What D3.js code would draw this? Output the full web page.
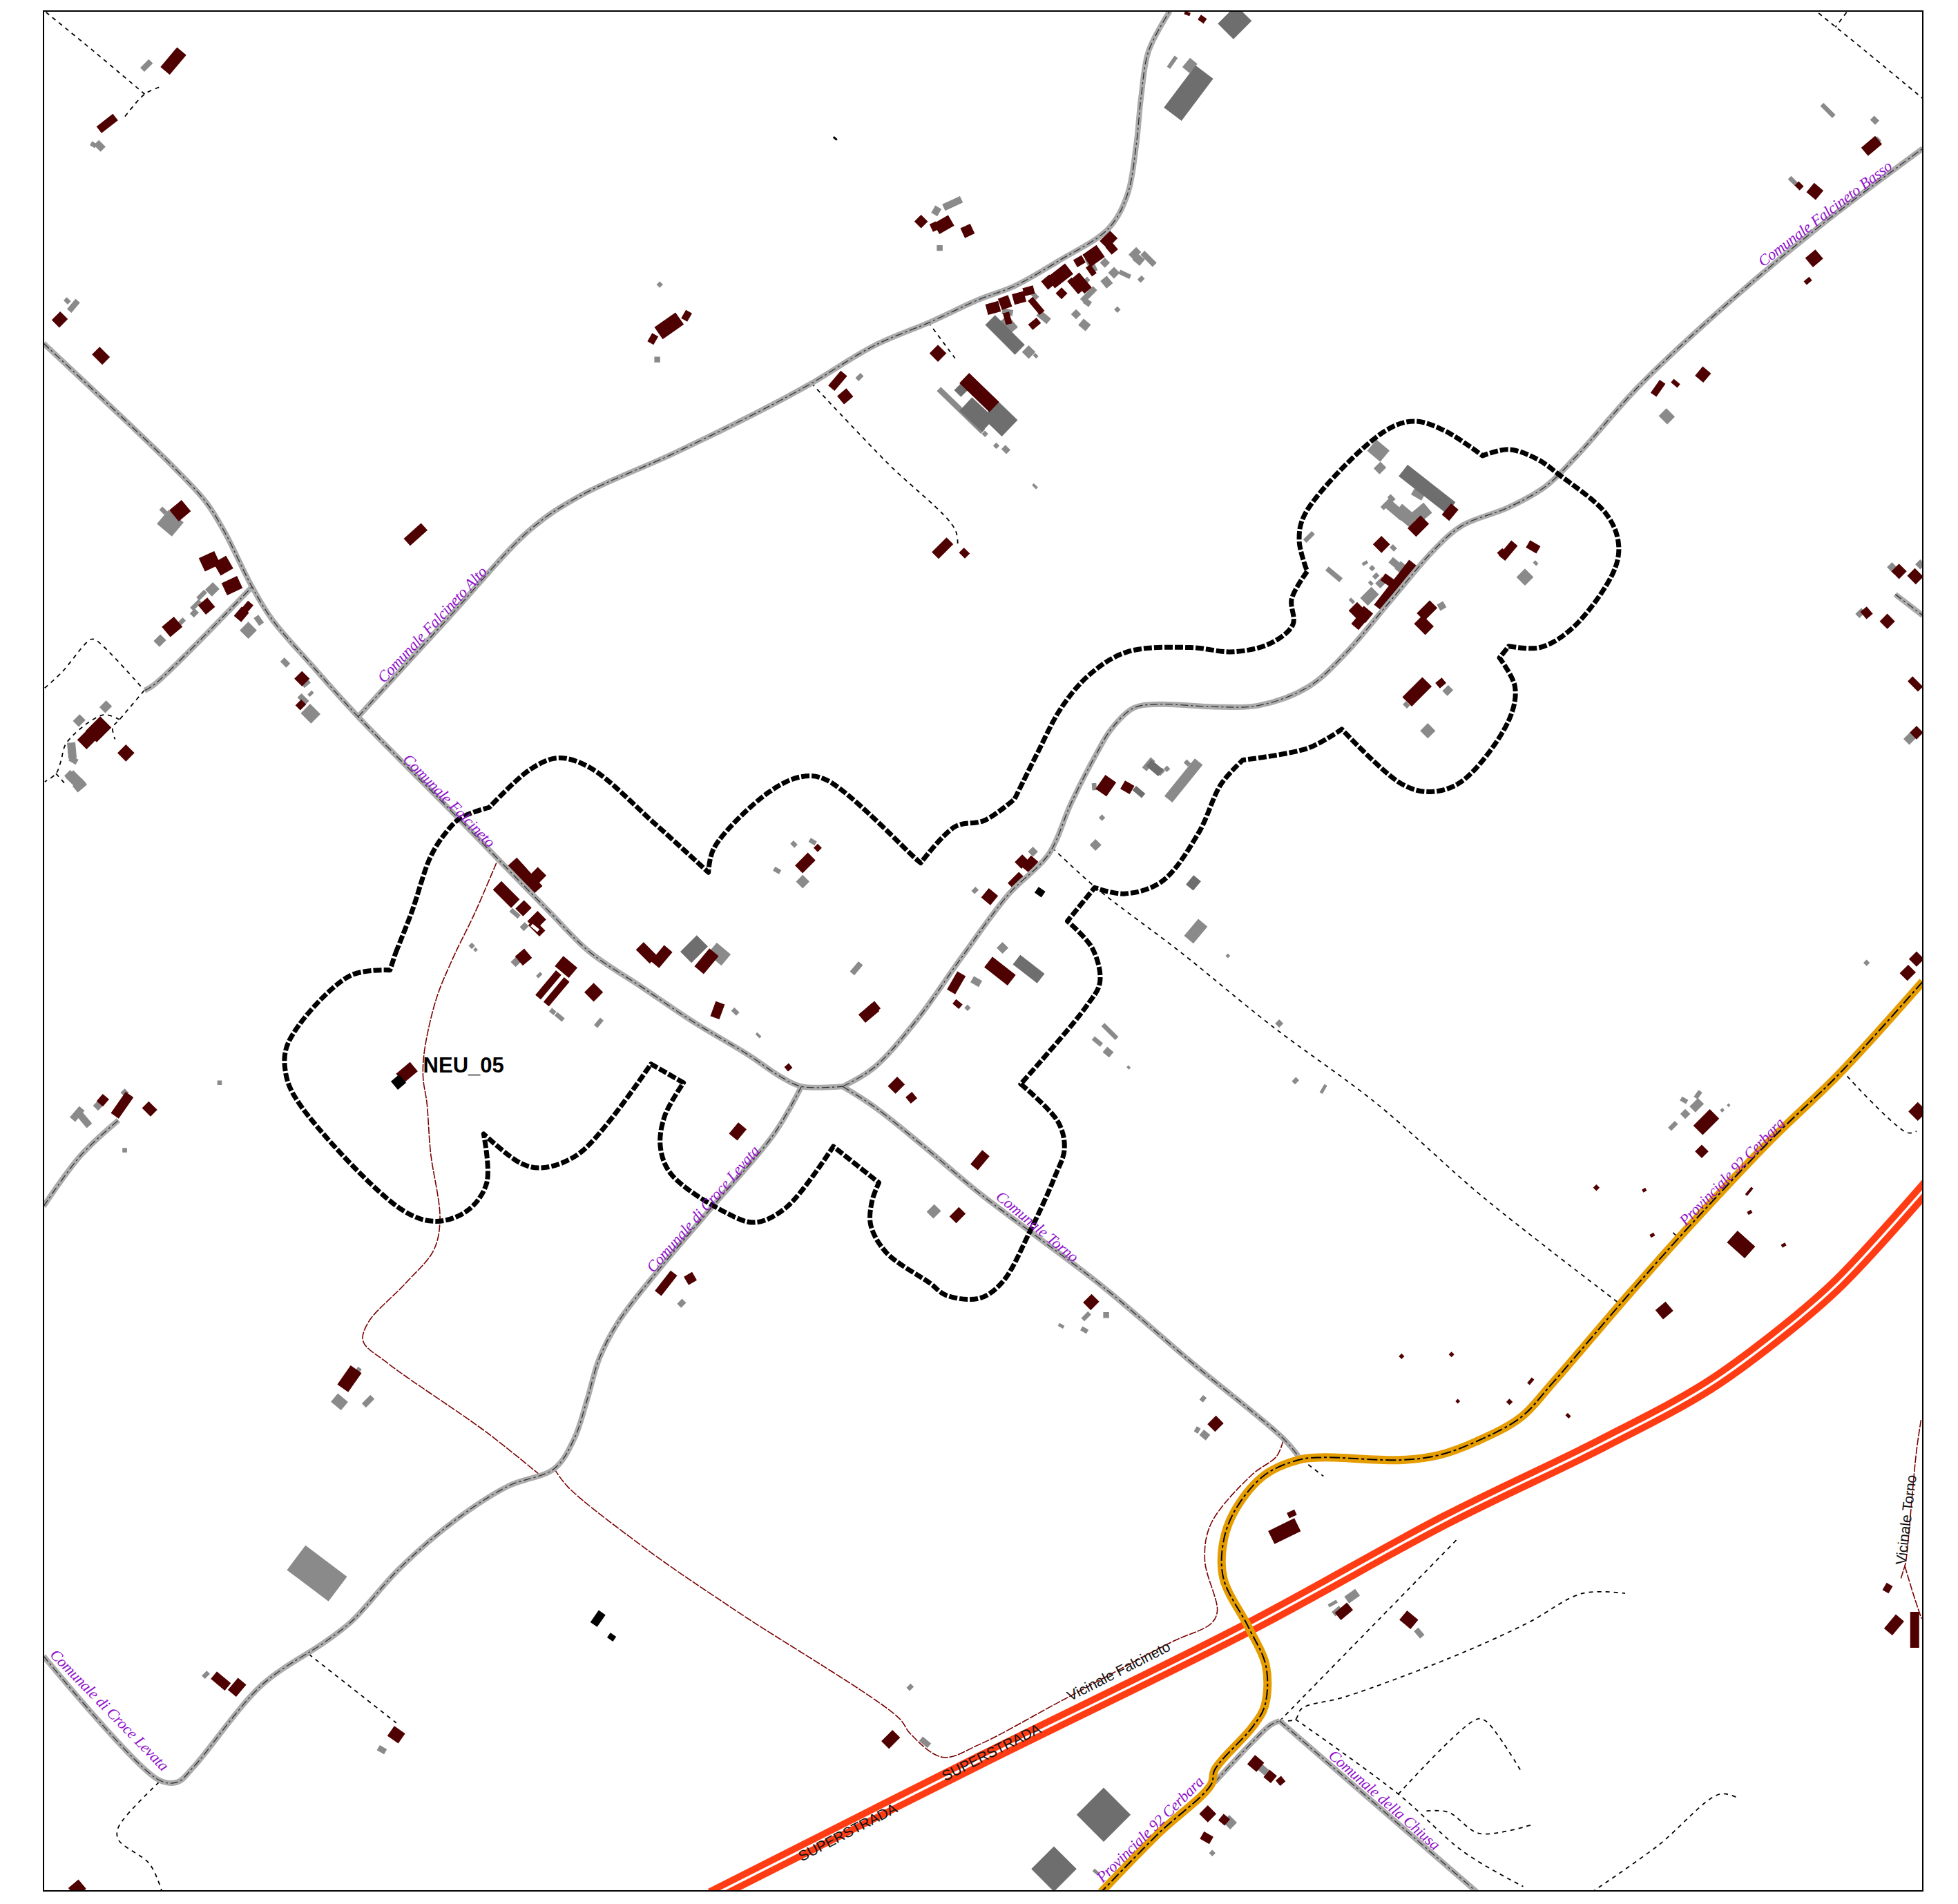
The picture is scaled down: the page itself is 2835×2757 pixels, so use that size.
<!DOCTYPE html>
<html>
<head>
<meta charset="utf-8">
<script src="https://cdn.jsdelivr.net/npm/d3@7"></script>
<style>
    html, body { margin: 0; padding: 0; background: #fff; }
    svg { display: block; }
</style>
</head>
<body>
<div id="chart"></div>
<script>
// all map data is in map units, the frame covers 35..1540 and 9..1514

// named roads (comunali)
const roadFalcineto = [[35,275],[105,341],[140,375],[165,402],[180,426],[202,470],[218,496],[250,533],[287,574],[367,655],[400,689],[440,730],[472,762],[515,791],[555,818],[600,845],[625,862],[642,870],[675,870]];
const roadTorno = [[675,870],[700,886],[740,918],[784,955],[825,986],[883,1030],[957,1093],[1027,1151],[1040,1166]];
const roadFalcinetoAlto = [[287,574],[360,494],[425,424],[465,397],[540,363],[615,326],[650,307],[700,277],[745,258],[784,240],[813,229],[848,209],[888,183],[903,156],[910,117],[914,78],[920,41],[937,9]];
const roadSide = [[116,553],[124,548],[202,470]];
const roadFalcinetoBasso = [[675,870],[700,855],[735,816],[770,767],[808,716],[840,684],[858,643],[878,604],[890,584],[908,567],[928,564],[973,566],[1008,565],[1048,550],[1078,523],[1113,482],[1148,441],[1171,421],[1208,406.5],[1238,389.5],[1263,365],[1313,309],[1389,238.5],[1459,180],[1540,119]];
const roadCroceLevata = [[642,870],[620,908],[570,967],[525,1020],[495,1059],[480,1088],[470,1122],[460,1152],[444,1176],[407,1190],[365,1217],[320,1256],[282,1298],[260,1315],[210,1349],[155,1415],[142,1427],[127,1425],[35,1326]];
const roadLeft = [[35,966],[65,925],[95,897]];
const roadChiusa = [[1025,1378],[1183,1515]];
const roadChiusaLink = [[973,1427],[1003,1395],[1018,1381],[1025,1378]];
const roadRightStub = [[1518,476],[1540,493]];
const comunali = [roadFalcineto, roadTorno, roadFalcinetoAlto, roadSide, roadFalcinetoBasso, roadCroceLevata, roadLeft, roadChiusa, roadChiusaLink, roadRightStub];

const provinciale = [[1540,786],[1473,860],[1418,913],[1343,993],[1298,1044],[1243,1108],[1218,1135],[1183,1154],[1153,1165],[1123,1169],[1058,1167],[1040,1169],[1013,1181],[990,1208],[980,1234],[980,1264],[1000,1303],[1014,1334],[1013,1366],[1003,1383],[973,1417],[970,1429],[928,1468],[882,1515]];
const superstrada = [[1545,948],[1473,1027],[1428,1066],[1368,1110],[1283,1156],[1158,1217],[1000,1303],[784,1410],[570,1518]];

// farm tracks, thin dotted
const tracks = [
    [[37,10],[75,41],[116,75.5]],
    [[127.5,70],[116,75.5],[99,95]],
    [[650,307],[710,370],[765,424],[767,438]],
    [[743.5,258],[765,287]],
    [[36,551],[50,538],[73,512],[77.4,513],[114.5,551.4]],
    [[115.6,553],[95.8,576.3],[90.4,582.6],[92.3,592]],
    [[95.8,576.3],[83,572.5],[53.6,594.6],[48.8,610],[45,619.5],[36,626]],
    [[45,619.5],[52.5,628]],
    [[127.5,1427],[95,1463],[95,1473],[120,1492.5],[130,1515]],
    [[247.5,1324.5],[317.5,1379.5]],
    [[843,679],[878,711],[945,762],[1018,821],[1103,884],[1183,954.5],[1235,996],[1298,1044.5]],
    [[1475,857],[1527.6,907],[1535,905.8]],
    [[1340,987],[1345,992]],
    [[1042.6,1168.7],[1060,1182]],
    [[1025,1378],[1167.6,1232]],
    [[1025,1378],[1037.6,1376.6],[1042.6,1368],[1077.6,1358.6],[1162.6,1327],[1222.6,1300],[1267.6,1275.8],[1301.6,1275.8]],
    [[1037.6,1376.6],[1120,1436.5],[1172.6,1483],[1220,1510.5]],
    [[1120,1436.5],[1182.6,1376.6],[1190,1378],[1217.6,1417]],
    [[1142.6,1450],[1160,1451],[1185,1468],[1227.6,1460.8]],
    [[1275,1515],[1327.6,1478],[1377.6,1436.5],[1392.6,1440]],
    [[1456.6,10.7],[1494,41],[1540,79]],
    [[1479,10],[1470,22]]
];

// vicinali, dark red dashed
const vicinali = [
    [[397.7,691],[380,732],[363,767],[349.5,800],[340,842],[339,863],[342,883],[345,923],[352.5,976],[347.5,1001],[325,1027.5],[295,1059],[291,1074],[310,1091],[390,1147],[432.5,1181]],
    [[444,1176],[455,1190.6],[520,1242],[590,1290],[720,1375.6],[729,1388],[755,1407],[784,1397],[848,1363],[938,1315],[970,1300],[975,1290],[965,1249],[970,1220],[1002.6,1181],[1022.6,1166],[1027.6,1154]],
    [[1538.6,1137],[1535,1161.5],[1526.5,1250],[1525.6,1253.8],[1522.5,1263.8]],
    [[1525.6,1253.8],[1528,1262],[1534,1281.4],[1539,1296]]
];

// study area boundary, a repeated point keeps a sharp corner
const boundary = [[317,763],[330,730],[345,686],[357,667],[369,655],[392,646.5],[392,646.5],[425,616],[447,607],[472,614.4],[525,660],[567.5,698.6],[567.5,698.6],[572,679],[615,635],[642,622],[662,624.6],[735,689],[737.5,691],[737.5,691],[765,662],[788.6,657],[812.6,640],[812.6,640],[830,605],[850,567],[873,540],[903,522],[953,518.5],[988,522],[1018,515],[1035.6,500],[1034.6,479.6],[1047,457.6],[1047,457.6],[1040.6,433],[1045.6,411],[1108.6,345.7],[1133,337.4],[1158.4,345.7],[1187.4,365],[1187.4,365],[1208.4,360],[1231,367.6],[1248.5,380],[1286,411],[1296,433],[1293.6,455],[1261,501.5],[1233.5,518.5],[1208.4,517.5],[1208.4,517.5],[1201,526.8],[1201,526.8],[1213.4,550],[1208.4,577],[1171,625.6],[1146,634],[1123,628],[1074.7,584],[1074.7,584],[1048,599],[995.5,608.6],[995.5,608.6],[978,628],[960,667],[930.4,706],[900.3,715.7],[876.8,710.8],[876.8,710.8],[855,737.6],[855,737.6],[875,759.5],[881,786.5],[870,806],[817.6,868],[817.6,868],[847.6,898.5],[852.6,920],[845,942],[825,986],[802.6,1027],[784,1039.7],[757.5,1037],[745,1027.5],[710,1003],[697.5,981],[698.5,961.8],[704,947],[704,947],[667.5,918],[667.5,918],[630,966.7],[605,978.8],[582.5,971.5],[537.5,940],[529,918],[532.5,893.6],[547.5,867],[547.5,867],[521.5,852],[521.5,852],[465,922.9],[435,935],[417.5,931.6],[387.5,908],[387.5,908],[390,947],[375,969],[350,977.9],[322.5,969],[240,884],[229,859.6],[231,835],[280,781.6],[312.5,776.8],[312.5,776.8],[317,763]];

// buildings: centre x, centre y, length, width, bearing in degrees
const housesMaroon = [
    [139,49,20,9,-50],[86,99,16,6,-38],[48,256,9,8,-45],[81,285,11,8,45],[144.4,409,12,11,-40],
    [168,449.5,13,11,-25],[179,453,11,11,-30],[186,469,13,10,-25],[165.6,485.4,9,9,-40],[197.5,487,10,5,-50],[193.5,492,9,7,-50],
    [138,502,12,10,-40],[79,584,16,12,-45],[69.5,592.5,10,10,-45],[101,603,9,9,-45],[242,543.5,8,8,-45],[241,564.5,6,5,-45],
    [333,428,18,7,-42],[420,702,30,11,48],[430.5,701.5,10,9,-45],[405.6,716.3,20,9,45],[419.4,727.3,9,8,-45],[430,737,11,9,-45],[430,743,12,6,45],
    [419.4,766.4,9,9,-40],[453.5,774.3,14,10,40],[439.3,788.7,25,5,-50],[445.8,794.2,25,5,-50],[475.6,794.6,10,10,-45],
    [518,763,15,8,45],[530,766,16,8,-50],[566,769.7,18,9,-50],[574.8,809,12,7,-70],[326,858.8,14,9,-40],
    [536,261,20,11,-35],[550,253,7,5,-60],[523,271.5,7,5,-60],[737.8,177.5,7,7,-45],[756,180,13,9,-30],[748.5,181.6,5,6,-25],[775,185,8,8,-25],
    [751.3,283,9,9,-45],[784.4,314.4,32.7,10.6,44],[795.5,246.7,10,8,-15],[805,242.4,8,9,-20],[816.3,238.7,9,8,-15],[824,233,8,6,-15],
    [830,245,14,4.5,50],[807,255,9,4.5,75],[828.7,259.4,8,5,-40],[849,221,18,10,-38],[840,226,8,8,-40],[850.3,235,6,6,-45],[861,229,13,4,50],[866.5,226.8,15,7,50],
    [876,205,13,11,-35],[864.6,209.3,7,6,-30],[874,216.6,8,4,55],[888,192,11,8,-45],[890.5,199,7,6,50],[963,15.5,5,4,35],[951,11,4,2,20],
    [1499,117,14,8,-40],[1453.6,153.4,9,9,-50],[1441,149,5,4,45],[1453,207,10,9,-40],[1448,225,5,3,-40],[1364,300,9,8,-50],[1342,307,6,3,40],[1328,311,12,5,-55],
    [1106.5,436,9,9,-45],[1161.5,410.2,11,7,-50],[1136,421.3,14,9,-45],[1118,469,45,8,-52],[1112,465,10,6,35],[1087,489,9,9,45],[1093,492,9,9,40],[1088,498.7,7,8,40],
    [1208,441,15,6,-50],[1203,443,5,5,-40],[1228,438,9,6,30],[1143,489,14,8,-45],[1140.5,500.6,12,9,45],[1135,554,22,10,-45],[1154,547,6,5,-40],
    [885.8,629.1,13,10,-55],[903,630.5,8,7,30],[818.5,690,8,7,-45],[825,692,11,7,-50],[814,705,12,6,-45],[792.7,718,9,9,40],[801,777.6,23,10,38],
    [766,787,16,7,-60],[767,804,6,4,40],[696,811,14,8,-40],[700,807,7,7,-40],[631.5,854.7,4,4,-40],[718,869,10,8,-45],[730,879,6,6,-40],[591,906,11,8,-50],[785,929,14,7,-50],[767,973,10,7,-45],
    [533.5,1027.5,20,6,-52],[553,1023.7,7,7,-30],[874,1042.6,9,8,-45],[973.6,1140,9,8,-45],[280,1104,18,10,-55],[177,1346,14,7,40],[190,1351,12,8,-50],
    [317.5,1389,10,9,35],[713.5,1392.7,12,8,-45],[62,1512,10,9,-40],[1028.8,1226,22.7,11,-26],[1034.7,1212.2,6,4,-25],[1076.4,1290.2,12,7,-40],[1128.4,1297,11,9,40],
    [1005.8,1412,9,9,40],[1017.4,1422.4,7,7,40],[1025.7,1426,5,5,-40],[967.4,1452.3,9,9,-45],[980.5,1457,6,6,40],[966.5,1471.5,8,6,30],
    [1366.6,898.5,18,10,-45],[1363,922,7,7,-45],[1394.5,996.5,18.4,12,42],[1333,1049.3,10,9,-40],[1278.6,951,3,3,-45],[1317,953,2.5,2,-30],[1323.4,989,3,2,-30],
    [1401,954,7,1.5,-50],[1401.4,970.8,3,2,-30],[1428.6,997,3,2,-30],[1122.6,1086,2.5,2.5,-45],[1162.6,1084.5,2.5,2.5,-45],[1226,1106,5,2,-50],[1209,1122.5,3,3,45],[1167.6,1122,2,2,45],[1256,1133.6,3,2,45],
    [1536,890,10,10,45],[1521,457.6,8,8,45],[1534,461.5,9,8,45],[1495,490.8,7,6,50],[1511.6,497.6,8,8,45],[1534,547.7,11,5,45],[1535,586.7,7,7,-45],
    [1535,768,8,8,45],[1528,779,9,8,-45],[1511.8,1271.6,5,6,30],[1517,1301,14,8,-50],[1533.5,1305,28,6.5,90],
    [98,885,20,7,-55],[82.5,881,7,6,-50],[120,888,9,7,45],[755,439,16,7,-45],[772.5,443,6,5,45],[671,305,15,6,-50],[677,317.5,9,8,-40],[645,691,14,8,-45],[655,679,4,4,-45]
];

const housesGrey = [
    [117.5,52.6,9,4,-45],[80,117,7,5,45],[75,116,4,3,30],[59,245,10,4,-50],[54,241,4,3,45],[136.5,419,15,14,40],[131,409,5,3,45],
    [170.2,472,8,7,-45],[161.7,476.6,8,3,-45],[157,484.5,9,3,-45],[155.8,491,5,4,-45],[128.2,513,7,6,-45],[145.7,497.8,5,3,-45],[199,504.8,9,9,-45],[207.4,496.8,7,4,55],
    [228.6,530.6,6,4,45],[245,547,6,4,-40],[243,560,8,4,45],[249,555.5,4,2,-45],[248.9,571.5,11,10,45],[84.8,566,7,6,-45],[63.6,577,7,6,-45],[57.7,601,12,6,85],[59,608.7,6,4,30],[61,625,14,8,45],[57,622,8,6,45],[64,629,9,6,-40],
    [62,892,11,5,-50],[68,897,11,5,50],[79,885,6,5,-45],[100,875,4,4,-45],[100,921,3,3,0],[176,867,3,3,0],[254,1259.8,41,24,37],[272,1122.5,10,8,40],[295,1122,9,4,-45],[283,1103,18,3,-55],
    [165,1341,5,3,-45],[306,1401,6,4,30],[546,1043.6,5,4,-45],[729,1351,4,3,-45],[741,1395,8,4,40],[870,1054,7,3,-45],[886,1053,4,4,0],[850,1061.6,4,2,30],[868.6,1065,5,3,30],
    [963.6,1120,4,3,-50],[965,1149,6,5,40],[959,1145,3,4,30],[412.6,731.4,8,3,40],[420,742,5,4,-45],[378,757.4,3,3,45],[381,760.5,2,2,45],[413.5,770,5,6,45],[432,780.8,4,2,-45],
    [442.8,810,4,3,40],[448.3,814.3,7,3,40],[479.7,819,7,3,-50],[576,764,14,11,40],[589,810,5,3,45],[607.5,829,4,1.5,45],[686,775.4,10,4,-50],[748,970,8,7,-45],
    [643,706,7,7,-45],[622.5,697,5,3,30],[636,676,4,3,45],[651,674,5,3,30],[781,713,4,3,-45],[763,163,15,5,-25],[750,169,6,5,-60],[752.7,198.7,4,4,0],
    [909,203,8,5,-45],[912,208,7,6,40],[920,207.4,13,4,45],[892.3,218.5,6,6,-45],[901,219.8,9,3,25],[886.4,226,7,6,50],[914,223.6,4,3,-45],[861.9,251.7,5,5,-45],[868.7,260.3,7,6,40],
    [895,248,3,3,45],[871,242.4,5,4,35],[872,236,14,4,-45],[874,212,12,5,65],[885,210.5,5,5,-45],[870,225,5,3,-45],[824,282,7,7,45],[798,357,3,3,45],[805.7,360,5,4,45],[789,347.5,3,3,45],[829.6,285,3,2,45],
    [807,250,8,4,10],[836,254,10,5,40],[829,237,5,3,45],[769.7,328.7,48.5,4,44],[808,260,12,8,50],
    [953,52.6,9,7,-50],[939,50,10,2.5,-55],[1464,88.6,13,3,45],[1501.5,96.4,5,4,45],[1436,145,7,3,45],[1503,113,5,4,-45],[1335,333.5,9,8,45],
    [1104,361,13,11,40],[1105.3,374.8,7,6,-45],[1135.7,396,9,5,30],[1117,408,18,7,40],[1126,413,16,10,40],[1138.4,411,13,10,-40],[1109,405.3,5,3,-45],[1114.5,399,5,3,45],
    [1048.5,430,9,3,-45],[1116,438.8,4,3,45],[1068.5,460,14,3.5,40],[1093.3,451,4,2,-30],[1099,455,3,3,45],[1102,461.3,4,3,-45],[1098,467,3,2,45],[1106.2,466.5,7,5,-45],
    [1118,451.7,10,5,40],[1122,454.5,7,6,-50],[1097,477.5,12,8,-45],[1082.8,481.2,4,2,45],[1221.4,462.2,9,9,45],[1230,451,3,2,45],[1154.7,485.3,5,5,-30],[1159.6,553,6,5,-45],[1126.5,564.5,4,3,45],[1143.6,585.2,8,8,45],
    [920,612,10,4,-50],[934.7,615.7,3,3,45],[930,618,5,3,-45],[948,625,38,7.5,-51],[951,611,4,3,45],[876.5,630,5,3,85],[882.7,654.8,3,3,45],[877.5,676.6,6,6,-45],[827.4,682,5,5,45],
    [957.8,745.7,17,9,-50],[983.5,765.4,2,2,45],[803,759,6,6,45],[782,786,7,5,30],[775,807,3,3,45],[889,826,15,3,45],[879,834,8,3,40],[887.6,842.5,6,5,40],[904,854.7,2,1.5,45],
    [1024.6,819.6,4,4,-45],[1037.6,865.4,4,3,-45],[1060,872,7,2,-60],[1495,771,3,3,-45],[1359,885,9,6,-45],[1360,876.5,6,3,-55],[1348.8,881,5,3,30],[1349.8,892,5,5,-45],[1340,901.5,7,3,-45],[1379.4,889,2,2,45],[1384.5,885,1.5,1.5,45],
    [1083,1278,10,6,-35],[1067.5,1284,7,2,-30],[1071,1290,7,4,-40],[1136.7,1307.6,7,4,50],[1011.8,1417,7,5,40],[985,1459,8,7,45],[971,1483.7,3,3,45],[878,1499,5,2,40],
    [1516,455,7,5,45],[1538,452,5,5,45],[1490,491,6,4,-45],[1531,590,11,6,-45],[688.5,302,5,3,-45],[526.5,288,4,4,0],[528.5,228,3,3,45],[829,389.5,4,1.5,45]
];

const housesDark = [
    [556,760,18,12,-45],[782.6,332,24,14,43],[801,335.5,21,17.6,44],[769.7,312.5,7,7,45],[805,268.3,33,10.5,45],[989,18,20,17,-45],[952,74.7,41.5,17,-53],
    [1143,391.8,48,11,38],[925,615,12,6,40],[912.2,634.2,9,4,40],[955.9,707,9,7,-50],[824,776,24,9,38],[884,1453,30,30,45],[844.2,1496.5,25,25,45]
];

const housesBlack = [[319.3,866.5,8,8,-40],[833,714.4,6,5,35],[479,1296,11,6,-55],[490,1310.8,5,4,35],[669,111,3,1,40]];
const courtyards = [[428.6,743,6.5,2,40]];

// road names
const serifNames = ["Comunale Falcineto Alto","Comunale Falcineto","Comunale Falcineto Basso","Comunale di Croce Levata","Comunale Torno","Comunale di Croce Levata","Provinciale 92 Cerbara","Provinciale 92 Cerbara","Comunale della Chiusa"];
const serifSpots = [[346,500,-47],[360,641,45.5],[1461.5,171,-37.3],[563,968,-48.8],[831,982,39.7],[88,1369,45.8],[1387,938,-45.8],[921,1464.6,-44.6],[1109,1441,41.4]];
const sansNames = ["SUPERSTRADA","SUPERSTRADA","Vicinale Falcineto","Vicinale Torno"];
const sansSpots = [[679,1467,-27.4],[794,1403,-27],[896,1338,-27],[1526.5,1217,-83]];

const width = 2835,
    height = 2757;

const x = d3.scaleLinear().domain([35, 1540]).range([63, 2784]);
const y = d3.scaleLinear().domain([9, 1514]).range([16, 2738]);

const svg = d3
    .select("#chart")
    .append("svg")
    .attr("width", width)
    .attr("height", height);

svg.append("clipPath")
    .attr("id", "frame")
    .append("rect")
    .attr("x", x(35))
    .attr("y", y(9))
    .attr("width", x(1540) - x(35))
    .attr("height", y(1514) - y(9));

const map = svg.append("g").attr("clip-path", "url(#frame)");

const smooth = d3
    .line()
    .x((d) => x(d[0]))
    .y((d) => y(d[1]))
    .curve(d3.curveCatmullRom.alpha(0.5));

const straight = d3
    .line()
    .x((d) => x(d[0]))
    .y((d) => y(d[1]))
    .curve(d3.curveLinearClosed);

// turn a building row into its four corners
function corners(b) {
    const a = (b[4] * Math.PI) / 180,
        ux = (Math.cos(a) * b[2]) / 2,
        uy = (Math.sin(a) * b[2]) / 2,
        vx = (-Math.sin(a) * b[3]) / 2,
        vy = (Math.cos(a) * b[3]) / 2;
    return [
        [b[0] - ux - vx, b[1] - uy - vy],
        [b[0] + ux - vx, b[1] + uy - vy],
        [b[0] + ux + vx, b[1] + uy + vy],
        [b[0] - ux + vx, b[1] - uy + vy],
    ];
}

function drawHouses(rows, color) {
    map.append("g")
        .selectAll("path")
        .data(rows)
        .enter()
        .append("path")
        .attr("d", (d) => straight(corners(d)))
        .attr("fill", color)
        .attr("stroke", color)
        .attr("stroke-width", 1.2);
}

function drawLines(rows, color, w, dash, cap) {
    map.append("g")
        .selectAll("path")
        .data(rows)
        .enter()
        .append("path")
        .attr("d", smooth)
        .attr("fill", "none")
        .attr("stroke", color)
        .attr("stroke-width", w)
        .attr("stroke-dasharray", dash)
        .attr("stroke-linecap", cap || "butt")
        .attr("stroke-linejoin", "round");
}

drawHouses(housesGrey, "#8a8a8a");
drawHouses(housesDark, "#6e6e6e");
drawHouses(housesMaroon, "#4f0000");
drawHouses(housesBlack, "#000");
drawHouses(courtyards, "#fff");

drawLines(tracks, "#000", 1.8, "6,6");
drawLines(vicinali, "#7a0000", 1.6, "11,2");

drawLines(comunali, "#ababab", 8, null);
drawLines(comunali, "#333", 1.3, "11,4,3,4");

drawLines([superstrada], "#ff3c14", 23, null);
drawLines([superstrada], "#fff", 3.5, null);

drawLines([provinciale], "#e59c00", 12, null);
drawLines([provinciale], "#000", 2, "15,4,4,4");

drawLines([boundary], "#000", 7, "12,3");

// labels
function drawLabels(names, spots, font, size, style, color, spacing) {
    svg.append("g")
        .selectAll("text")
        .data(names)
        .enter()
        .append("text")
        .attr("transform", (d, i) => "translate(" + x(spots[i][0]) + "," + y(spots[i][1]) + ") rotate(" + spots[i][2] + ")")
        .attr("text-anchor", "middle")
        .attr("dy", "0.35em")
        .attr("font-family", font)
        .attr("font-size", size)
        .attr("font-style", style)
        .attr("letter-spacing", spacing)
        .attr("fill", color)
        .text((d) => d);
}

drawLabels(serifNames, serifSpots, "Liberation Serif", 22.5, "italic", "#9010cc", -0.3);
drawLabels(sansNames, sansSpots, "Liberation Sans", 21, "normal", "#111", 0);

svg.append("text")
    .attr("x", x(339))
    .attr("y", y(859))
    .attr("font-family", "Liberation Sans")
    .attr("font-weight", "bold")
    .attr("font-size", 31)
    .attr("fill", "#000")
    .text("NEU_05");

svg.append("rect")
    .attr("x", x(35))
    .attr("y", y(9))
    .attr("width", x(1540) - x(35))
    .attr("height", y(1514) - y(9))
    .attr("fill", "none")
    .attr("stroke", "#000")
    .attr("stroke-width", 2);
</script>
</body>
</html>
